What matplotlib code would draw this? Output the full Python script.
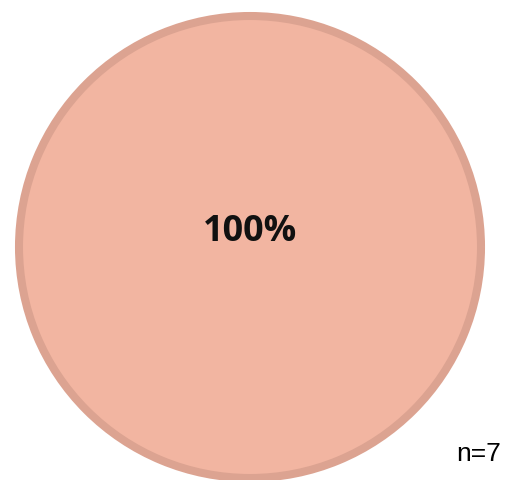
import matplotlib.pyplot as plt

labels = ['Sí']
counts = [7]
n_total = sum(counts)

fig = plt.figure(figsize=(5.12, 4.8), dpi=100)
ax = fig.add_axes([19 / 512, 2 / 480, 462 / 512, 462 / 480])

wedges, texts, autotexts = ax.pie(
    counts, colors=['#F2B5A1'], startangle=270, radius=1,
    autopct='%1.0f%%', pctdistance=0.065,
    wedgeprops=dict(edgecolor='#DCA391', linewidth=5.8),
    textprops=dict(fontsize=26, fontweight='bold', color='#111111', family='Open Sans'),
)
for w in wedges:
    w.set_clip_on(False)
ax.set_xlim(-1, 1)
ax.set_ylim(-1, 1)
ax.set_aspect('equal')
ax.axis('off')

fig.text(479 / 512, 1 - 454 / 480, f'n={n_total}', ha='center', va='center',
         fontsize=19, family='Liberation Sans')

fig.savefig('out.png', dpi=100)
